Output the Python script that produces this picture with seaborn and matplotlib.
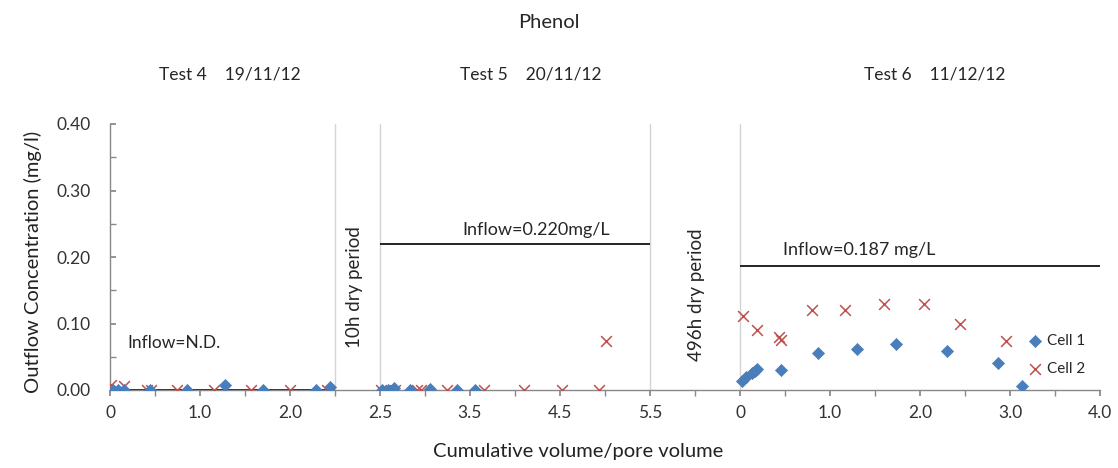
import matplotlib
matplotlib.use("Agg")
import matplotlib.pyplot as plt
import seaborn as sns
import pandas as pd
import numpy as np

# ---- data (x on each test's own labelled scale) ----
t4_c1_x = [0.03, 0.09, 0.15, 0.44, 0.86, 1.28, 1.70, 2.29, 2.44]
t4_c1_y = [0.000, 0.000, 0.000, 0.000, 0.000, 0.008, 0.000, 0.000, 0.005]
t4_c2_x = [0.01, 0.16, 0.41, 0.46, 0.74, 1.15, 1.57, 2.00, 2.41]
t4_c2_y = [0.008, 0.006, 0.000, 0.000, 0.000, 0.000, 0.000, 0.000, 0.000]

t5_c1_x = [2.52, 2.59, 2.65, 2.83, 3.06, 3.35, 3.56]
t5_c1_y = [0.000, 0.000, 0.003, 0.000, 0.002, 0.000, 0.000]
t5_c2_x = [2.51, 2.67, 2.91, 2.95, 3.24, 3.65, 4.10, 4.52, 4.93, 5.01]
t5_c2_y = [0.000, 0.000, 0.000, 0.000, 0.000, 0.000, 0.000, 0.000, 0.000, 0.074]

t6_c1_x = [0.02, 0.07, 0.13, 0.17, 0.19, 0.46, 0.87, 1.30, 1.73, 2.30, 2.87, 3.13]
t6_c1_y = [0.014, 0.019, 0.025, 0.029, 0.031, 0.030, 0.055, 0.061, 0.069, 0.059, 0.041, 0.006]
t6_c2_x = [0.03, 0.19, 0.43, 0.46, 0.80, 1.17, 1.60, 2.04, 2.44, 2.96]
t6_c2_y = [0.111, 0.090, 0.080, 0.075, 0.120, 0.120, 0.130, 0.130, 0.100, 0.074]

tests = ["Test 4    19/11/12", "Test 5    20/11/12", "Test 6    11/12/12"]
inflow_values = [0.0, 0.220, 0.187]
inflow_labels = ["Inflow=N.D.", "Inflow=0.220mg/L", "Inflow=0.187 mg/L"]
dry_labels = ["10h dry period", "496h dry period"]
x_tick_labels = ["0", "1.0", "2.0", "2.5", "3.5", "4.5", "5.5", "0", "1.0", "2.0", "3.0", "4.0"]
y_ticks = [0.0, 0.1, 0.2, 0.3, 0.4]

# offsets mapping each test's own scale onto the shared axis
offsets = [0.0, 0.5, 7.0]
segments = [(0.0, 2.5), (3.0, 6.0), (7.0, 11.0)]

rows = []
for off, (c1x, c1y, c2x, c2y) in zip(offsets, [
        (t4_c1_x, t4_c1_y, t4_c2_x, t4_c2_y),
        (t5_c1_x, t5_c1_y, t5_c2_x, t5_c2_y),
        (t6_c1_x, t6_c1_y, t6_c2_x, t6_c2_y)]):
    for x, y in zip(c1x, c1y):
        rows.append(("Cell 1", x + off, y))
    for x, y in zip(c2x, c2y):
        rows.append(("Cell 2", x + off, y))
df = pd.DataFrame(rows, columns=["cell", "x", "y"])

sns.set_theme(style="white")
plt.rcParams["font.family"] = ["Lato", "DejaVu Sans"]

fig = plt.figure(figsize=(11.18, 4.68), dpi=100)
ax = fig.add_axes([110 / 1118, 1 - 390 / 468, 990 / 1118, 266 / 468])

blue = "#4A7EBB"
red = "#C0504D"

# separator lines
for xv in [2.5, 3.0, 6.0, 7.0]:
    ax.axvline(xv, ymin=0, ymax=1, color="#d4d4d4", lw=1, zorder=1)

# inflow lines
for (a, b), v in zip(segments, inflow_values):
    ax.hlines(v, a, b, color="black", lw=1.2, zorder=2)

sns.scatterplot(data=df[df.cell == "Cell 1"], x="x", y="y", marker="D", s=38,
                color=blue, edgecolor=blue, linewidth=0.5, ax=ax, label="Cell 1", zorder=4)
sns.scatterplot(data=df[df.cell == "Cell 2"], x="x", y="y", marker="x", s=60,
                color=red, linewidth=1.1, ax=ax, label="Cell 2", zorder=3)

ax.set_xlim(0, 11)
ax.set_ylim(0, 0.4)
ax.set_xticks(np.arange(0, 12))
ax.set_xticklabels(x_tick_labels)
ax.set_xticks(np.arange(0, 11.01, 0.5), minor=True)
ax.set_yticks(y_ticks)
ax.set_yticklabels([f"{v:.2f}" for v in y_ticks])
ax.set_yticks(np.arange(0, 0.401, 0.05), minor=True)
ax.tick_params(axis="both", which="both", labelsize=12.5, colors="#333333")
ax.tick_params(axis="x", which="both", direction="out", length=4, color="#888888", pad=7, bottom=True)
ax.tick_params(axis="y", which="both", direction="in", length=4, color="#888888", pad=14, left=True)

for s in ["top", "right"]:
    ax.spines[s].set_visible(False)
for s in ["left", "bottom"]:
    ax.spines[s].set_color("#888888")
    ax.spines[s].set_linewidth(1)

ax.set_xlabel("Cumulative volume/pore volume", fontsize=14.5, color="#222222")
ax.xaxis.set_label_coords((578 - 110) / 990, -(443 - 390) / 266)
ax.set_ylabel("Outflow Concentration (mg/l)", fontsize=14.5, color="#222222")
ax.yaxis.set_label_coords(-(110 - 42) / 990, (390 - 262) / 266)

# annotations
ax.text(0.19, 0.071, inflow_labels[0], fontsize=12.5, va="center", ha="left")
ax.text(4.73, 0.241, inflow_labels[1], fontsize=13, va="center", ha="center")
ax.text(8.32, 0.211, inflow_labels[2], fontsize=13, va="center", ha="center")
ax.text(2.72, 0.155, dry_labels[0], fontsize=13.5, rotation=90, va="center", ha="center")
ax.text(6.52, 0.143, dry_labels[1], fontsize=13.5, rotation=90, va="center", ha="center")

fig.text(549 / 1118, 1 - 22 / 468, "Phenol", fontsize=14.5, ha="center", va="center")
for xc, t in zip([230, 531, 935], tests):
    fig.text(xc / 1118, 1 - 75 / 468, t, fontsize=12.5, ha="center", va="center")

leg = ax.legend(loc="center left", bbox_to_anchor=((1020 - 110) / 990, (390 - 355) / 266),
                frameon=False, fontsize=11, handletextpad=0.15, labelspacing=0.9,
                borderaxespad=0, handlelength=1.2)

fig.savefig("out.png", dpi=100)
